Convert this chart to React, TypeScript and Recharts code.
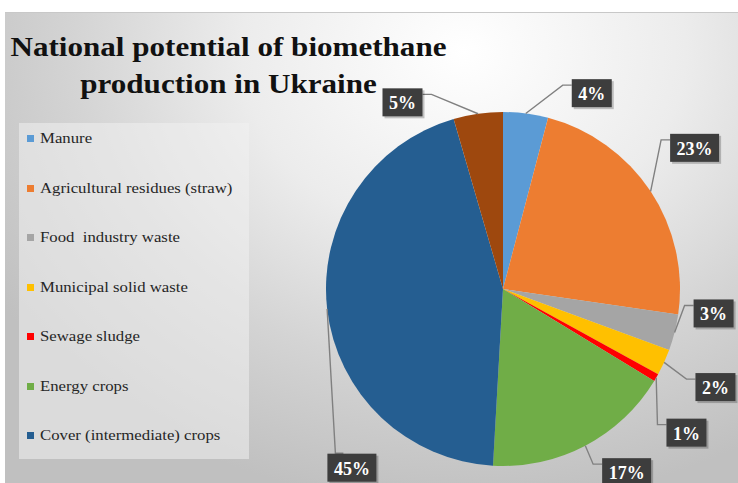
import React from 'react';
import { PieChart, Pie, Cell, Legend } from 'recharts';

// ---- data ----
const categories = [
  'Manure',
  'Agricultural residues (straw)',
  'Food  industry waste',
  'Municipal solid waste',
  'Sewage sludge',
  'Energy crops',
  'Cover (intermediate) crops',
  'Other',
];
const shares = [4.1, 23.2, 3.3, 2.4, 0.7, 17.2, 44.6, 4.5];
const legendCategories = categories.slice(0, 7);
const titleLines = ['National potential of biomethane', 'production in Ukraine'];

// ---- styling ----
const colors = ['#5B9BD5', '#ED7D31', '#A5A5A5', '#FFC000', '#FF0000', '#70AD47', '#255E91', '#9E480E'];
// label placement relative to slice: angular shift (deg, clockwise) and gap beyond outer radius
const labelShift = [17.0, -2.9, -7.6, 0.3, 8.0, -6.3, -43.3, -20.2];
const labelGap = [38, 61, 35, 57, 56, 44, 57, 35];

const data = categories.map((name, i) => ({ name, value: shares[i] }));

const RAD = Math.PI / 180;
const polar = (cx: number, cy: number, r: number, a: number) => ({
  x: cx + Math.cos(-a * RAD) * r,
  y: cy + Math.sin(-a * RAD) * r,
});

const renderLabel = (props: any) => {
  const { cx, cy, midAngle, outerRadius, index, value } = props;
  const text = `${Math.round(value)}%`;
  const w = 22 + 9 * text.length;
  const h = 28;
  const p0 = polar(cx, cy, outerRadius, midAngle);
  const b = polar(cx, cy, outerRadius + labelGap[index], midAngle - labelShift[index]);
  const left = b.x - w / 2;
  const top = b.y - h / 2;
  const dx = b.x - p0.x;
  const dy = b.y - p0.y;
  let A, E;
  if (Math.abs(dy) > 2 * Math.abs(dx)) {
    const ay = dy > 0 ? top - 0.5 : top + h + 0.5;
    A = { x: left + 16, y: ay };
    E = { x: left + 8, y: ay };
  } else if (dx > 0) {
    A = { x: left, y: top + 6 };
    E = { x: left - 9, y: top + 6 };
  } else {
    A = { x: left + w, y: top + 6 };
    E = { x: left + w + 9, y: top + 6 };
  }
  return (
    <g key={`lbl-${index}`}>
      <polyline
        points={`${p0.x},${p0.y} ${E.x},${E.y} ${A.x},${A.y}`}
        fill="none"
        stroke="#808080"
        strokeWidth={1.4}
      />
      <rect x={left + 2} y={top + 2} width={w} height={h} fill="rgba(0,0,0,0.22)" />
      <rect x={left} y={top} width={w} height={h} fill="#3d3d3d" />
      <text
        x={b.x}
        y={b.y + 1}
        textAnchor="middle"
        dominantBaseline="central"
        fill="#ffffff"
        fontFamily="'Liberation Serif', 'Times New Roman', serif"
        fontWeight="bold"
        fontSize={18}
      >
        {text}
      </text>
    </g>
  );
};

const renderLegend = (props: any) => {
  const payload = (props.payload || [])
    .filter((p: any) => legendCategories.includes(p.value))
    .sort((a: any, b: any) => legendCategories.indexOf(a.value) - legendCategories.indexOf(b.value));
  return (
    <div
      style={{
        width: 230,
        height: 336,
        background: 'rgba(240,240,240,0.55)',
        boxSizing: 'border-box',
        paddingTop: 5,
        paddingLeft: 8,
      }}
    >
      {payload.map((p: any, i: number) => (
        <div
          key={p.value}
          style={{
            display: 'flex',
            alignItems: 'center',
            height: 20,
            marginBottom: i < payload.length - 1 ? 29.5 : 0,
          }}
        >
          <span style={{ width: 7, height: 7, background: p.color, display: 'inline-block', marginRight: 6, marginTop: 1, flex: 'none' }} />
          <span
            style={{
              fontFamily: "'Liberation Serif', 'Times New Roman', serif",
              fontSize: 15.5,
              color: '#262626',
              whiteSpace: 'pre',
              lineHeight: '20px',
              display: 'inline-block',
              transform: 'scaleX(1.08)',
              transformOrigin: 'left center',
            }}
          >
            {p.value}
          </span>
        </div>
      ))}
    </div>
  );
};

export default function App() {
  return (
    <div style={{ position: 'fixed', left: 0, top: 0, width: 738, height: 483, background: '#ffffff', overflow: 'hidden' }}>
      <style>{`.recharts-pie-sectors { filter: drop-shadow(0px 0px 7px rgba(0,0,0,0.35)); }`}</style>
      <div
        style={{
          position: 'absolute',
          left: 5,
          top: 12,
          width: 740,
          height: 480,
          borderTop: '1px solid #c8c8c8',
          background: 'radial-gradient(ellipse 75% 95% at 62% 8%, #ffffff 0%, #ececec 40%, #d4d4d4 70%, #c0c0c0 100%)',
        }}
      />
      <div
        style={{
          position: 'absolute',
          left: 0,
          top: 28,
          width: 457,
          textAlign: 'center',
          fontFamily: "'Liberation Serif', 'Times New Roman', serif",
          fontWeight: 'bold',
          fontSize: 28,
          lineHeight: '37px',
          color: '#111111',
        }}
      >
        {titleLines.map((t) => (
          <div key={t} style={{ transform: 'scaleX(1.11)', transformOrigin: '228.5px center', whiteSpace: 'nowrap' }}>
            {t}
          </div>
        ))}
      </div>
      <div style={{ position: 'absolute', left: 0, top: 0 }}>
        <PieChart width={738} height={483} margin={{ top: 0, right: 0, bottom: 0, left: 0 }}>
          <Pie
            data={data}
            dataKey="value"
            nameKey="name"
            cx={503}
            cy={289}
            outerRadius={177}
            startAngle={90}
            endAngle={-270}
            stroke="none"
            label={renderLabel}
            labelLine={false}
            isAnimationActive={false}
          >
            {data.map((d, i) => (
              <Cell key={d.name} fill={colors[i]} />
            ))}
          </Pie>
          <Legend
            content={renderLegend}
            layout="vertical"
            itemSorter={null as any}
            wrapperStyle={{ position: 'absolute', left: 19, top: 123, width: 230, height: 336 }}
          />
        </PieChart>
      </div>
    </div>
  );
}
